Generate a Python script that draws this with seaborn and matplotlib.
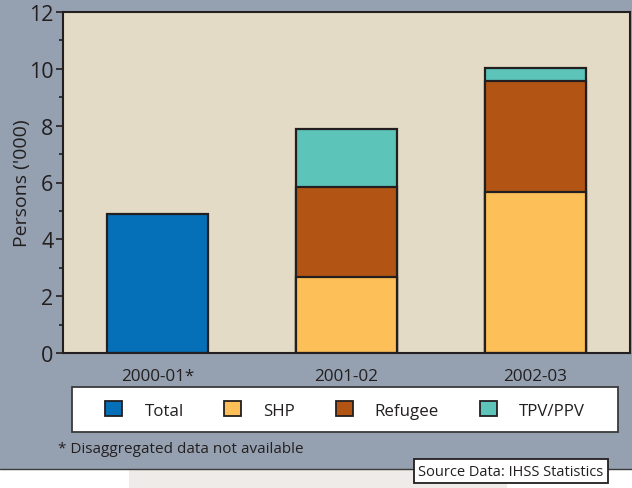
import numpy as np
import pandas as pd
import seaborn as sns
import matplotlib.pyplot as plt
from matplotlib.patches import Patch, Rectangle
from matplotlib.ticker import MultipleLocator

# values, thousands of persons
years = ["2000-01*", "2001-02", "2002-03"]
total = [4.9, np.nan, np.nan]
shp = [np.nan, 2.68, 5.67]
refugee = [np.nan, 3.17, 3.91]
tpv = [np.nan, 2.04, 0.46]

colors = {"Total": "#0570b8", "SHP": "#fdc058", "Refugee": "#b25413", "TPV/PPV": "#5cc4b8"}

df = pd.DataFrame({"year": years, "Total": total, "SHP": shp, "Refugee": refugee, "TPV/PPV": tpv})
# cumulative heights so layers can be overlaid back to front
df["top_ref"] = df["SHP"] + df["Refugee"]
df["top_tpv"] = df["top_ref"] + df["TPV/PPV"]

sns.set_style("white")
plt.rcParams["font.family"] = ["Open Sans", "DejaVu Sans"]
edge = "#231f20"

fig = plt.figure(figsize=(6.32, 4.89), dpi=100, facecolor="white")
# grey panel behind the chart and pale strip underneath
fig.patches.append(Rectangle((0, 1 - 470 / 489), 1, 470 / 489, transform=fig.transFigure,
                             facecolor="#95a1b0", edgecolor="none", zorder=-2))
fig.patches.append(Rectangle((129 / 632, 0), 378 / 632, 1 - 470 / 489 - 0.002, transform=fig.transFigure,
                             facecolor="#efebe9", edgecolor="none", zorder=-2))
fig.lines.append(plt.Line2D([0, 1], [1 - 470 / 489] * 2, transform=fig.transFigure, color="#3a3a3a", lw=1))
# white legend panel
fig.patches.append(Rectangle((72 / 632, 1 - 433 / 489), 546 / 632, 45 / 489, transform=fig.transFigure,
                             facecolor="white", edgecolor="#3a3a3a", linewidth=1.3, zorder=1))

ax = fig.add_axes([63 / 632, 1 - 354 / 489, 567 / 632, 341 / 489])
ax.set_facecolor("#e3dbc5")

kw = dict(x="year", order=years, edgecolor=edge, linewidth=1.6, width=0.53, saturation=1, ax=ax, errorbar=None)
sns.barplot(data=df, y="top_tpv", color=colors["TPV/PPV"], **kw)
sns.barplot(data=df, y="top_ref", color=colors["Refugee"], **kw)
sns.barplot(data=df, y="SHP", color=colors["SHP"], **kw)
sns.barplot(data=df, y="Total", color=colors["Total"], **kw)

ax.set_xlim(-0.5, 2.5)
ax.set_ylim(0, 12)
ax.yaxis.set_major_locator(MultipleLocator(2))
ax.yaxis.set_minor_locator(MultipleLocator(1))
ax.tick_params(axis="y", which="major", left=True, length=5, width=1.2, labelsize=15.5, colors="#231f20", pad=2)
ax.tick_params(axis="y", which="minor", left=True, length=3, width=1.2, colors="#231f20")
ax.tick_params(axis="x", bottom=False, labelsize=12.3, labelcolor="#231f20", pad=7)
ax.set_xlabel("")
ax.set_ylabel("Persons ('000)", fontsize=14, color="#231f20")
ax.yaxis.set_label_coords(-0.056, 0.5)
for s in ax.spines.values():
    s.set_visible(True)
    s.set_color(edge)
    s.set_linewidth(1.5)

handles = [Patch(facecolor=c, edgecolor=edge, linewidth=1.3) for c in colors.values()]
leg = fig.legend(handles, list(colors.keys()), ncol=4, loc="center",
                 bbox_to_anchor=(345 / 632, 1 - 411 / 489), frameon=False, fontsize=12.2,
                 handlelength=1.0, handleheight=1.0, handletextpad=1.3, columnspacing=2.4)
leg.set_zorder(2)
for t in leg.get_texts():
    t.set_color("#231f20")

fig.text(58 / 632, 1 - 450 / 489, "* Disaggregated data not available", fontsize=11,
         color="#231f20", va="center", ha="left")
fig.text(511 / 632, 1 - 472 / 489, "Source Data: IHSS Statistics", fontsize=10.5,
         color="#231f20", va="center", ha="center",
         bbox=dict(boxstyle="square,pad=0.3", facecolor="white", edgecolor="#231f20", linewidth=1.3))

fig.savefig("out.png", dpi=100, facecolor=fig.get_facecolor())
